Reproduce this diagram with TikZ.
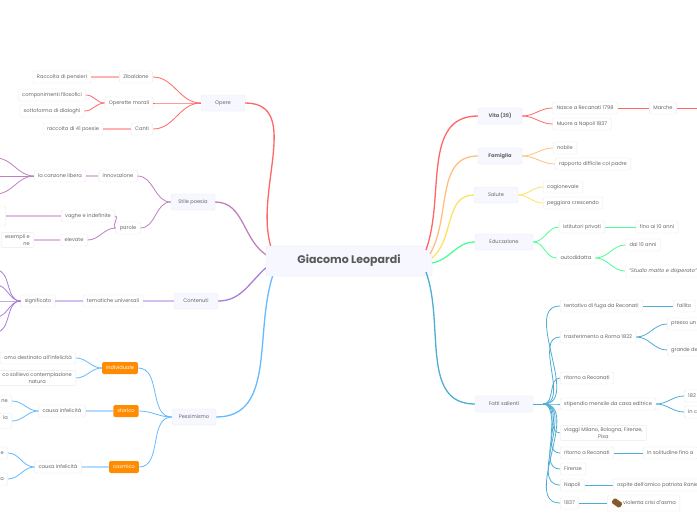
\documentclass[tikz,border=0pt]{standalone}
\usepackage{fontspec}
\setmainfont{Poppins}
\begin{document}
\begin{tikzpicture}[x=1pt,y=-1pt,
  bx/.style={draw=black!8, fill=white, rounded corners=2pt, inner xsep=4pt, inner ysep=2.5pt, minimum height=12pt, font=\fontsize{5.1}{6.2}\selectfont, text=black!60, align=center},
  mn/.style={bx, fill=blue!3, minimum height=16pt, minimum width=44pt},
  og/.style={bx, fill=orange!90!yellow, draw=none, text=white},
  cR/.style={draw=red!60, line width=0.8pt},
  cO/.style={draw=orange!50, line width=0.8pt},
  cY/.style={draw=yellow!70!orange!60, line width=0.8pt},
  cG/.style={draw=green!60!cyan!70, line width=0.8pt},
  cC/.style={draw=cyan!80!black!80, line width=0.8pt},
  cP/.style={draw=violet!50, line width=0.8pt},
  cV/.style={draw=blue!40!violet!50, line width=0.8pt},
  cB/.style={draw=blue!45!cyan!60, line width=0.8pt},
  lk/.style={line width=1.6pt, opacity=0.5}]
\useasboundingbox (0,0) rectangle (697,520);
\clip (0,0) rectangle (697,520);
\fill[white] (0,0) rectangle (697,520);
% center anchors for branches
\coordinate (lo) at (272,250); \coordinate (ls) at (268,256);
\coordinate (lc) at (268,266); \coordinate (lp) at (274,272);
\coordinate (rv) at (426,250); \coordinate (rf) at (430,254);
\coordinate (rs) at (432,258); \coordinate (re) at (432,263);
\coordinate (rt) at (426,272);
% ---- left: Opere
\node[mn] (op) at (223,103) {Opere};
\node[bx] (zib) at (136,77) {Zibaldone};
\node[bx] (om) at (129,103) {Operette morali};
\node[bx] (can) at (142,129) {Canti};
\node[bx] (rp) at (62,77) {Raccolta di pensieri};
\node[bx] (cf) at (52,95) {componimenti filosofici};
\node[bx] (sd) at (52,111) {sottoforma di dialoghi};
\node[bx] (r41) at (73,129) {raccolta di 41 poesie};
\draw[cR, line width=1.3pt] (op.east) to[out=0,in=110] (lo);
\foreach \n in {zib,om,can}{\draw[cR] (op.west) to[out=180,in=0] (\n.east);}
\draw[cR,lk] (zib.west) -- (rp.east);
\draw[cR,lk] (can.west) -- (r41.east);
\draw[cR] (om.west) to[out=180,in=0] (cf.east);
\draw[cR] (om.west) to[out=180,in=0] (sd.east);
% ---- Stile poesia
\node[mn] (sp) at (193,202) {Stile poesia};
\node[bx] (inn) at (118,176) {innovazione};
\node[bx] (par) at (128,228) {parole};
\node[bx] (cl) at (60,176) {la canzone libera};
\node[bx] (vi) at (88,216) {vaghe e indefinite};
\node[bx] (el) at (74,240) {elevate};
\node[bx, anchor=east, minimum height=20pt] (pv) at (6,216) {\phantom{xx}};
\node[bx, anchor=east, align=right] (ps) at (34,240) {esempli e\\ne};
\draw[cP, line width=1.3pt] (sp.east) to[out=0,in=150] (ls);
\draw[cP] (sp.west) to[out=180,in=0] (inn.east);
\draw[cP] (sp.west) to[out=180,in=0] (par.east);
\draw[cP,lk] (inn.west) -- (cl.east);
\draw[cP] (par.west) to[out=180,in=0] (vi.east);
\draw[cP] (par.west) to[out=180,in=0] (el.east);
\draw[cP,lk] (vi.west) -- (pv.east);
\draw[cP,lk] (el.west) -- (ps.east);
\coordinate (cl1) at (-4,158); \coordinate (cl2) at (-4,194); \coordinate (cl3) at (-4,176);
\draw[cP] (cl.west) to[out=180,in=0] (cl1);
\draw[cP] (cl.west) to[out=180,in=0] (cl2);
\draw[cP] (cl.west) -- (cl3);
% ---- Contenuti
\node[mn] (co) at (196,301) {Contenuti};
\node[bx] (tu) at (113,301) {tematiche universali};
\node[bx] (sig) at (38,301) {significato};
\draw[cV, line width=1.3pt] (co.east) to[out=0,in=220] (lc);
\draw[cV,lk] (co.west) -- (tu.east);
\draw[cV,lk] (tu.west) -- (sig.east);
\foreach \yy in {270,285,301,317,332}{\coordinate (s\yy) at (-4,\yy); \draw[cV] (sig.west) to[out=180,in=0] (s\yy);}
% ---- Pessimismo
\node[mn] (pe) at (194,417) {Pessimismo};
\node[og] (ind) at (120,368) {individuale};
\node[og] (sto) at (126,411) {storico};
\node[og] (cos) at (124,467) {cosmico};
\node[bx, anchor=east] (i1) at (76,358) {omo destinato all'infelicità};
\node[bx, anchor=east] (i2) at (76,378) {co sollievo contemplazione\\natura};
\node[bx] (ci1) at (62,411) {causa infelicità};
\node[bx] (ci2) at (58,467) {causa infelicità};
\node[bx, anchor=east] (a1) at (12,401) {ne};
\node[bx, anchor=east] (a2) at (12,421) {la\\\phantom{x}};
\node[bx, anchor=east] (b1) at (8,453) {e};
\node[bx, anchor=east] (b2) at (8,479) {a};
\draw[cB, line width=1.3pt] (pe.east) to[out=0,in=250] (lp);
\foreach \n in {ind,sto,cos}{\draw[cB] (pe.west) to[out=180,in=0] (\n.east);}
\draw[cB] (ind.west) to[out=180,in=0] (i1.east);
\draw[cB] (ind.west) to[out=180,in=0] (i2.east);
\draw[cB,lk] (sto.west) -- (ci1.east);
\draw[cB,lk] (cos.west) -- (ci2.east);
\draw[cB] (ci1.west) to[out=180,in=0] (a1.east);
\draw[cB] (ci1.west) to[out=180,in=0] (a2.east);
\draw[cB] (ci2.west) to[out=180,in=0] (b1.east);
\draw[cB] (ci2.west) to[out=180,in=0] (b2.east);
% center (drawn over branch ends)
\node[bx, fill=blue!3, font=\fontsize{11}{13}\bfseries\selectfont, text=black!65, minimum width=166pt, minimum height=30pt] (c) at (349,261) {Giacomo Leopardi};
% ---- right: Vita
\node[mn, font=\fontsize{5.1}{6.2}\bfseries\selectfont] (vi3) at (500,116) {Vita (39)};
\node[bx] (nr) at (585,108) {Nasce a Recanati 1798};
\node[bx] (mn1) at (582,124) {Muore a Napoli 1837};
\node[bx] (ma) at (663,108) {Marche};
\coordinate (maR) at (700,108);
\draw[cR, line width=1.3pt] (rv) to[out=70,in=180] (vi3.west);
\draw[cR] (vi3.east) to[out=0,in=180] (nr.west);
\draw[cR] (vi3.east) to[out=0,in=180] (mn1.west);
\draw[cR] (nr.east) -- (ma.west);
\draw[cR] (ma.east) -- (maR);
% Famiglia
\node[mn, font=\fontsize{5.1}{6.2}\bfseries\selectfont] (fa) at (500,156) {Famiglia};
\node[bx] (nob) at (565,148) {nobile};
\node[bx] (rd) at (593,164) {rapporto difficile col padre};
\draw[cO, line width=1.3pt] (rf) to[out=60,in=180] (fa.west);
\draw[cO] (fa.east) to[out=0,in=180] (nob.west);
\draw[cO] (fa.east) to[out=0,in=180] (rd.west);
% Salute
\node[mn] (sa) at (496,195) {Salute};
\node[bx] (cg) at (563,187) {cagionevale};
\node[bx] (pc) at (573,203) {peggiora crescendo};
\draw[cY, line width=1.3pt] (rs) to[out=40,in=180] (sa.west);
\draw[cY] (sa.east) to[out=0,in=180] (cg.west);
\draw[cY] (sa.east) to[out=0,in=180] (pc.west);
% Educazione
\node[mn, minimum width=58pt] (ed) at (504,242) {Educazione};
\node[bx] (ip) at (582,227) {istitutori privati};
\node[bx] (f10) at (657,227) {fino ai 10 anni};
\node[bx] (au) at (576,258) {autodidatta};
\node[bx] (d10) at (643,245) {dai 10 anni};
\node[bx, anchor=west, font=\fontsize{5.1}{6.2}\itshape\selectfont] (smd) at (625,271) {"Studio matto e disperato"};
\draw[cG, line width=1.3pt] (re) to[out=10,in=180] (ed.west);
\draw[cG] (ed.east) to[out=0,in=180] (ip.west);
\draw[cG] (ed.east) to[out=0,in=180] (au.west);
\draw[cG] (ip.east) -- (f10.west);
\draw[cG] (au.east) to[out=0,in=180] (d10.west);
\draw[cG] (au.east) to[out=0,in=180] (smd.west);
% Fatti salienti
\node[mn, minimum width=58pt] (fs) at (504,404) {Fatti salienti};
\draw[cC, line width=1.3pt] (rt) to[out=-70,in=180] (fs.west);
\node[bx, anchor=west] (t1) at (560,306) {tentativo di fuga da Recanati};
\node[bx, anchor=west] (fl) at (673,306) {fallito};
\node[bx, anchor=west] (t2) at (560,337) {trasferimento a Roma 1822};
\node[bx, anchor=west] (pu) at (667,324) {presso un};
\node[bx, anchor=west] (gd) at (667,350) {grande de};
\node[bx, anchor=west] (t3) at (560,378) {ritorno a Recanati};
\node[bx, anchor=west] (t4) at (560,404) {stipendio mensile da casa editrice};
\node[bx, anchor=west] (s1) at (684,396) {182};
\node[bx, anchor=west] (s2) at (684,412) {in c};
\node[bx, anchor=west] (t5) at (560,433) {viaggi Milano, Bologna, Firenze,\\Pisa};
\node[bx, anchor=west] (t6) at (560,453) {ritorno a Recanati};
\node[bx, anchor=west] (so) at (643,453) {in solitudine fino a};
\node[bx, anchor=west] (t7) at (560,469) {Firenze};
\node[bx, anchor=west] (t8) at (560,485) {Napoli};
\node[bx, anchor=west] (os) at (613,485) {ospite dell'amico patriota Ranieri};
\node[bx, anchor=west] (t9) at (560,503) {1837};
\node[bx, anchor=west, minimum height=16pt] (va) at (607,503) {\hspace{12pt}violenta crisi d'asma};
\fill[brown!70!black, rotate around={-35:(617,503)}, rounded corners=1.5pt] (612,500) rectangle (622,506);
\draw[cC] (fs.east) -- ++(10,0);
\foreach \n in {t1,t2,t3,t4,t5,t6,t7,t8,t9}{\draw[cC] (fs.east) ++(10,0) to[out=0,in=180] (\n.west);}
\draw[cC] (t1.east) -- (fl.west);
\draw[cC] (t2.east) to[out=0,in=180] (pu.west);
\draw[cC] (t2.east) to[out=0,in=180] (gd.west);
\draw[cC] (t4.east) to[out=0,in=180] (s1.west);
\draw[cC] (t4.east) to[out=0,in=180] (s2.west);
\draw[cC] (t6.east) -- (so.west);
\draw[cC] (t8.east) -- (os.west);
\draw[cC] (t9.east) -- (va.west);
\end{tikzpicture}
\end{document}
